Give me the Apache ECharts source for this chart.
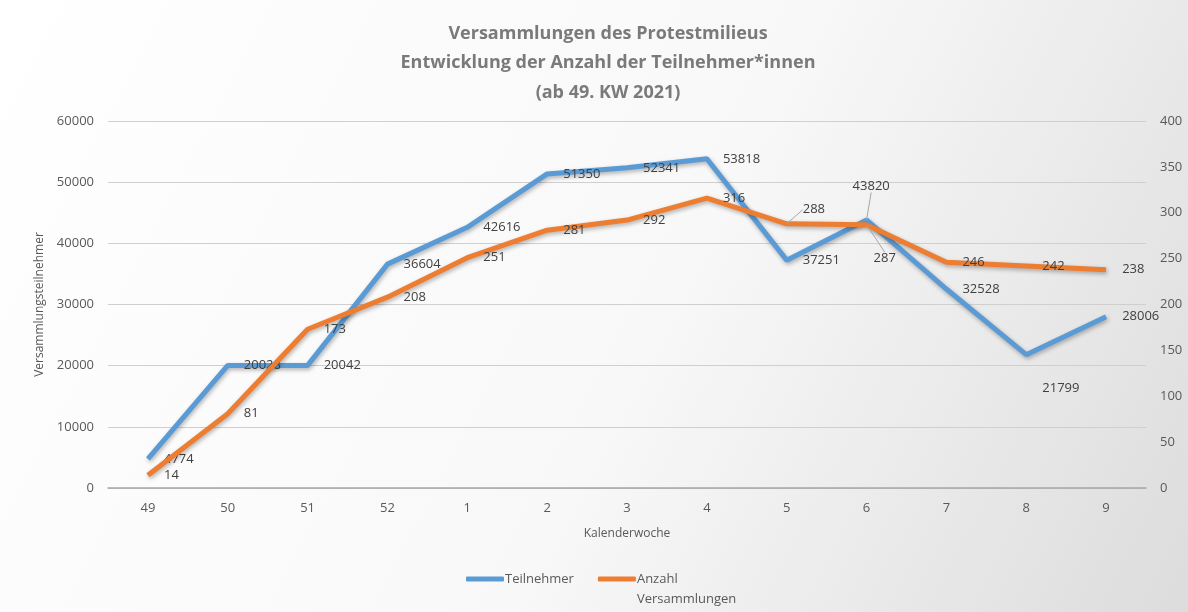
<!DOCTYPE html>
<html>
<head>
<meta charset="utf-8">
<script src="https://cdn.jsdelivr.net/npm/echarts@6/dist/echarts.min.js"></script>
<style>
  html, body { margin: 0; padding: 0; }
  #chart { width: 1188px; height: 612px; }
</style>
</head>
<body>
<div id="chart"></div>
<script>
// Kalenderwochen ab 49/2021
var weeks = ['49', '50', '51', '52', '1', '2', '3', '4', '5', '6', '7', '8', '9'];
var teilnehmer = [4774, 20028, 20042, 36604, 42616, 51350, 52341, 53818, 37251, 43820, 32528, 21799, 28006];
var anzahl = [14, 81, 173, 208, 251, 281, 292, 316, 288, 287, 246, 242, 238];

// labels moved away from the default spot (right of the point): [dx, dy, leader line?]
var labelMoves = [
    { 9: [-30, -34, true], 11: [0, 34, false] },   // Teilnehmer
    { 8: [0, -14, true], 9: [-9, 34, true] }       // Anzahl
];

var blue = '#5b9bd5';
var orange = '#ed7d31';
var textGray = '#595959';

function buildData(values, moves) {
    return values.map(function (v, i) {
        var item = { value: v };
        if (moves[i] && moves[i][2]) {
            item.labelLine = { show: true };
        }
        return item;
    });
}

function lineSeries(name, values, axisIndex, color, moves, z) {
    return {
        name: name,
        type: 'line',
        yAxisIndex: axisIndex,
        data: buildData(values, moves),
        symbol: 'circle',
        symbolSize: 0.1,
        showSymbol: true,
        lineStyle: {
            color: color,
            width: 5,
            shadowColor: 'rgba(0,0,0,0.3)',
            shadowBlur: 4,
            shadowOffsetX: 1,
            shadowOffsetY: 2
        },
        itemStyle: { color: color },
        label: {
            show: true,
            position: 'right',
            distance: 16,
            color: '#404040',
            fontSize: 13
        },
        labelLine: {
            show: false,
            lineStyle: { color: '#a6a6a6', width: 1 }
        },
        labelLayout: function (params) {
            var m = labelMoves[params.seriesIndex][params.dataIndex];
            if (m) {
                return { dx: m[0], dy: m[1], hideOverlap: false };
            }
            return { hideOverlap: false };
        },
        z: z
    };
}

var chart = echarts.init(document.getElementById('chart'));
var option = {
    backgroundColor: new echarts.graphic.LinearGradient(0, 0, 1, 1, [
        { offset: 0, color: '#ffffff' },
        { offset: 0.55, color: '#f8f8f8' },
        { offset: 1, color: '#dcdcdc' }
    ]),
    textStyle: { fontFamily: 'Open Sans' },
    title: {
        text: 'Versammlungen des Protestmilieus\nEntwicklung der Anzahl der Teilnehmer*innen\n(ab 49. KW 2021)',
        left: 603,
        top: 14,
        textAlign: 'center',
        textStyle: {
            color: '#7a7a7a',
            fontSize: 18,
            fontWeight: 'bold',
            lineHeight: 29.5
        }
    },
    legend: {
        top: 544,
        left: 461,
        itemWidth: 38,
        itemHeight: 5,
        itemGap: 24,
        icon: 'roundRect',
        textStyle: { color: textGray, fontSize: 13, padding: [0, 0, 0, -4], lineHeight: 20 },
        formatter: function (name) {
            return name === 'Teilnehmer' ? name : '\n' + name;
        },
        data: ['Teilnehmer', 'Anzahl\nVersammlungen']
    },
    grid: {
        left: 108,
        right: 42,
        top: 121,
        bottom: 124
    },
    xAxis: {
        type: 'category',
        data: weeks,
        name: 'Kalenderwoche',
        nameLocation: 'middle',
        nameGap: 40,
        nameTextStyle: { color: textGray, fontSize: 12 },
        axisLine: { lineStyle: { color: '#a6a6a6', width: 1.5 } },
        axisTick: { show: false },
        axisLabel: { color: textGray, fontSize: 13, margin: 14 }
    },
    yAxis: [
        {
            type: 'value',
            min: 0,
            max: 60000,
            interval: 10000,
            name: 'Versammlungsteilnehmer',
            nameLocation: 'middle',
            nameGap: 60,
            nameTextStyle: { color: textGray, fontSize: 12 },
            axisLine: { show: false },
            axisTick: { show: false },
            axisLabel: {
                color: textGray,
                fontSize: 13,
                margin: 14,
                formatter: function (v) { return String(v); }
            },
            splitLine: { lineStyle: { color: '#cfcfcf', width: 1.2 } }
        },
        {
            type: 'value',
            min: 0,
            max: 400,
            interval: 50,
            axisLine: { show: false },
            axisTick: { show: false },
            axisLabel: { color: textGray, fontSize: 13, margin: 14 },
            splitLine: { show: false }
        }
    ],
    series: [
        lineSeries('Teilnehmer', teilnehmer, 0, blue, labelMoves[0], 2),
        lineSeries('Anzahl\nVersammlungen', anzahl, 1, orange, labelMoves[1], 3)
    ]
};
chart.setOption(option);
</script>
</body>
</html>
